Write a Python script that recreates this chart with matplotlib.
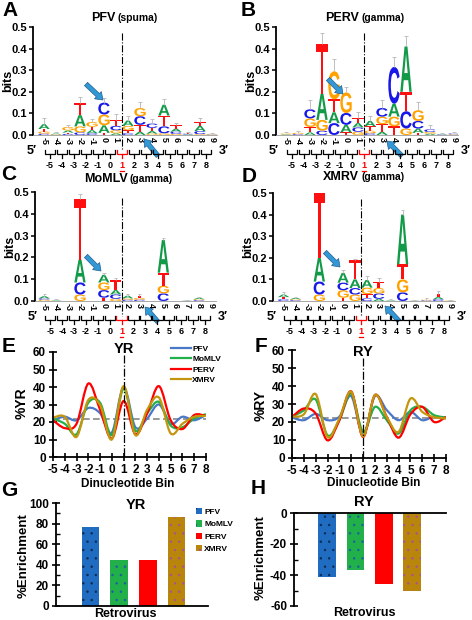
import matplotlib
matplotlib.use("Agg")
import matplotlib.pyplot as plt
import numpy as np
from matplotlib.textpath import TextPath
from matplotlib.patches import PathPatch, FancyArrow
from matplotlib.path import Path
from matplotlib.font_manager import FontProperties
from matplotlib.transforms import Affine2D, blended_transform_factory
from matplotlib.lines import Line2D
from matplotlib.patches import Patch

plt.rcParams['font.family'] = ['Liberation Sans', 'DejaVu Sans']
plt.rcParams['font.weight'] = 'bold'
plt.rcParams['axes.unicode_minus'] = False
plt.rcParams['hatch.linewidth'] = 0.5

# ---- data ----
POS = list(range(-5, 10))
DINUC = list(range(-5, 9))

# sequence logos: letters bottom -> top, heights in bits, error bar tops
PFV_SEQ = ["CGTA", "GA", "CTAG", "CGAT", "CATG", "TAGC", "AGCT", "CTGA",
           "ATCG", "GATC", "GCTA", "GCAT", "ACT", "GCAT", "CG"]
PFV_BITS = [[.006, .01, .012, .022], [.003, .004], [.005, .006, .01, .016],
            [.012, .028, .052, .058], [.008, .014, .016, .022], [.01, .035, .05, .055],
            [.008, .014, .02, .028], [.008, .014, .02, .025], [.015, .032, .04, .038],
            [.006, .012, .015, .02], [.008, .032, .05, .05], [.005, .01, .014, .016],
            [.003, .003, .004], [.004, .014, .024, .016], [.002, .003]]
PFV_ERR = [.08, .012, .045, .175, .075, .17, .095, .09, .155, .075, .165, .055, .015, .078, .008]

PERV_SEQ = ["AG", "CG", "ATGC", "CGAT", "CATG", "TACG", "GCAT", "CGTA",
            "ATGC", "TGAC", "GCTA", "TACG", "AGC", "AC", "GC"]
PERV_BITS = [[.003, .004], [.004, .006], [.012, .025, .04, .042],
             [.02, .05, .12, .23], [.055, .05, .06, .13], [.012, .035, .055, .095],
             [.015, .02, .02, .025], [.008, .012, .02, .025], [.015, .035, .035, .04],
             [.04, .045, .06, .17], [.03, .08, .09, .21], [.01, .02, .035, .05],
             [.006, .008, .012], [.002, .002], [.003, .004]]
PERV_ERR = [.012, .018, .16, .47, .35, .22, .105, .09, .16, .36, .46, .155, .045, .01, .014]

MOMLV_SEQ = ["GCA", "A", "", "GCAT", "", "TCGA", "GCAT", "CGA",
             "CGT", "", "CGTA", "", "A", "CGA", ""]
MOMLV_BITS = [[.006, .006, .01], [.003], [], [.03, .055, .105, .28], [],
              [.015, .035, .035, .035], [.01, .02, .02, .045], [.006, .006, .012],
              [.006, .008, .008], [], [.035, .035, .06, .15], [], [.002],
              [.004, .004, .006], []]
MOMLV_ERR = [.03, .008, 0, .49, 0, .13, .105, .03, .03, 0, .29, 0, .005, .02, 0]

XMRV_SEQ = ["CTA", "CGA", "", "GCAT", "", "TGCA", "GCAT", "CTGA",
            "ACGT", "A", "CGTA", "A", "CG", "CAT", "G"]
XMRV_BITS = [[.008, .01, .012], [.004, .004, .006], [], [.03, .06, .11, .3], [],
             [.015, .035, .035, .045], [.03, .03, .04, .09], [.012, .02, .03, .035],
             [.01, .025, .025, .03], [.003], [.04, .06, .07, .23], [.002],
             [.003, .003], [.008, .01, .015], [.002]]
XMRV_ERR = [.04, .02, 0, .5, 0, .145, .195, .115, .105, .008, .42, .005, .012, .045, .006]

# dinucleotide frequency curves
BINS = list(range(-5, 9))
YR_PFV = [21, 23, 21, 28, 25, 14, 40, 17, 22, 30, 19, 23, 21, 24]
YR_MOMLV = [22, 19, 13, 31, 31, 12.5, 39, 15, 25, 31.5, 18, 17, 22, 24.5]
YR_PERV = [21, 16.5, 19, 42, 27, 10.5, 32, 13, 25, 40.5, 21, 16, 24, 23.5]
YR_XMRV = [22.5, 23, 11.5, 32.6, 29.7, 10, 40.5, 12.5, 27, 34, 13.5, 19, 23, 23.5]

RY_PFV = [22.5, 21, 24.5, 21, 23, 34.4, 12.6, 34.4, 26.6, 21, 25.6, 21, 23, 22]
RY_MOMLV = [23, 26.5, 32.5, 12.6, 21, 35.8, 14.5, 28.4, 21, 13.6, 26.5, 28.4, 23.8, 22.5]
RY_PERV = [22.8, 27.5, 24.7, 9.8, 21, 37, 11.7, 35, 22.8, 11.3, 24.3, 28.4, 20, 22.8]
RY_XMRV = [23, 24.3, 35.5, 11.7, 22, 36.8, 12, 35, 22.8, 14.5, 33, 25.6, 22.7, 22]
BACKGROUND = 22

VIRUSES = ["PFV", "MoMLV", "PERV", "XMRV"]
YR_ENRICH = [77, 45, 45, 86]
RY_ENRICH = [-41, -37, -46, -50]

LINE_COLORS = ['#4a78c8', '#22b04a', '#ff0000', '#c4960e']
BAR_COLORS = ['#1f6cc0', '#22b04a', '#ff0000', '#b8860b']
DOT_COLORS = ['#0c2a55', '#1d5fa0', '#ff0000', '#b0508f']
LETTER_COLORS = {'A': '#129a48', 'C': '#1818e8', 'G': '#ffa200', 'T': '#ff1010'}

# ---- figure ----
W, H = 472, 620
fig = plt.figure(figsize=(W / 100, H / 100), dpi=100)
ov = fig.add_axes([0, 0, 1, 1])
ov.set_xlim(0, W)
ov.set_ylim(H, 0)
ov.axis('off')
ov.patch.set_alpha(0)
ov.set_zorder(5)


def px_axes(l, t, r, b):
    return fig.add_axes([l / W, 1 - b / H, (r - l) / W, (b - t) / H])


FP_LOGO = FontProperties(family='Liberation Sans', weight='bold')


def draw_letter(ax, ch, x, y0, w, h):
    tp = TextPath((0, 0), ch, size=1, prop=FP_LOGO)
    ext = tp.get_extents()
    tr = Affine2D().translate(-ext.x0, -ext.y0).scale(w / ext.width, h / ext.height).translate(x - w / 2, y0)
    ax.add_patch(PathPatch(tr.transform_path(tp), fc=LETTER_COLORS[ch], ec='none', lw=0))


def draw_logo(rect, x5, s, seqs, bits, errs, name, sub, tsplit, ty):
    l, t, r, b = rect
    ax = px_axes(l, t, r, b)
    ax.set_xlim(-5 - (x5 - l) / s, 9 + (r - (x5 + 14 * s)) / s)
    ax.set_ylim(0, 0.5)
    for p, seq, hs, e in zip(POS, seqs, bits, errs):
        y0 = 0
        for ch, h in zip(seq, hs):
            draw_letter(ax, ch, p, y0, 0.95, h)
            y0 += h
        if e > y0:
            ax.vlines(p, y0, e, color='#c0c0c0', lw=0.7)
            ax.hlines(e, p - 0.15, p + 0.15, color='#c0c0c0', lw=0.7)
    for sp in ['top', 'right']:
        ax.spines[sp].set_visible(False)
    ax.spines['left'].set_linewidth(1.3)
    ax.spines['bottom'].set_linewidth(0.6)
    ax.spines['bottom'].set_color('#999999')
    ax.set_yticks([0, .1, .2, .3, .4, .5])
    ax.set_yticklabels(['0.0', '0.1', '0.2', '0.3', '0.4', '0.5'], fontsize=8)
    ax.tick_params(axis='y', length=3, width=1.1, pad=1)
    ax.set_xticks(POS)
    ax.set_xticklabels([str(p) for p in POS], rotation=-90, fontsize=6.5)
    ax.tick_params(axis='x', length=0, pad=1.5)

    bt = blended_transform_factory(ax.transData, ov.transData)
    yl = b + 19
    for d in DINUC:
        c = 'red' if d == 1 else 'black'
        ov.plot([d + 0.06, d + 0.06, d + 0.94, d + 0.94], [yl - 4, yl, yl, yl - 4],
                color=c, lw=0.9, transform=bt, solid_joinstyle='miter')
        ov.plot([d + 0.5, d + 0.5], [yl, yl + 4], color=c, lw=0.9, transform=bt)
        ov.text(d + 0.5, b + 31, str(d), transform=bt, ha='center', va='center',
                fontsize=6.5, color=c)
        if d == 1:
            ov.plot([d + 0.36, d + 0.64], [b + 36, b + 36], color='red', lw=0.9, transform=bt)
    ov.text(-6, yl - 3, '5\u2032', transform=bt, ha='center', va='center', fontsize=9)
    ov.text(10, yl - 3, '3\u2032', transform=bt, ha='center', va='center', fontsize=9)
    ov.plot([1.5, 1.5], [t + 6, b + 15], transform=bt, color='k', ls='-.', lw=0.8)
    ov.text(tsplit, ty, name, ha='right', va='baseline', fontsize=9)
    ov.text(tsplit + 2, ty, sub, ha='left', va='baseline', fontsize=7.5)
    ov.text(l - 25, (t + b) / 2, 'bits', rotation=90, ha='center', va='center', fontsize=9)


draw_logo((33, 27, 217, 135), 44, 12.0, PFV_SEQ, PFV_BITS, PFV_ERR, 'PFV', '(spuma)', 115, 21)
draw_logo((276, 27, 458, 135), 286, 12.0, PERV_SEQ, PERV_BITS, PERV_ERR, 'PERV', '(gamma)', 359, 21)
draw_logo((35, 192, 216, 301), 44.3, 11.9, MOMLV_SEQ, MOMLV_BITS, MOMLV_ERR, 'MoMLV', '(gamma)', 128, 182)
draw_logo((273, 193, 455, 301), 283.6, 11.9, XMRV_SEQ, XMRV_BITS, XMRV_ERR, 'XMRV', '(gamma)', 359, 180)


def smooth_path(x, y):
    pts = np.column_stack([x, y]).astype(float)
    n = len(pts)
    verts = [pts[0]]
    codes = [Path.MOVETO]
    for i in range(n - 1):
        p0 = pts[max(i - 1, 0)]
        p1 = pts[i]
        p2 = pts[i + 1]
        p3 = pts[min(i + 2, n - 1)]
        verts += [p1 + (p2 - p0) / 6, p2 - (p3 - p1) / 6, p2]
        codes += [Path.CURVE4] * 3
    return Path(verts, codes)


def draw_curves(rect, series, title, ylab, ylab_xy, xlab_xy, title_py, top_py, legend):
    l, t, r, b = rect
    ax = px_axes(l, t, r, b)
    ax.set_xlim(-5, 8)
    ax.set_ylim(0, 60)
    ax.axhline(BACKGROUND, color='#888888', ls='--', lw=1.2, dashes=(4, 2), zorder=1)
    for vals, c in zip(series, LINE_COLORS):
        ax.add_patch(PathPatch(smooth_path(BINS, vals), fill=False, ec=c, lw=1.6, zorder=2))
    bt = blended_transform_factory(ax.transData, ov.transData)
    ov.plot([1, 1], [top_py, b], transform=bt, color='k', ls='-.', lw=0.9)
    ov.text(1, title_py, title, transform=bt, ha='center', va='center', fontsize=10.5)
    for sp in ['top', 'right']:
        ax.spines[sp].set_visible(False)
    for sp in ['left', 'bottom']:
        ax.spines[sp].set_linewidth(1.3)
    ax.set_xticks(BINS)
    ax.set_xticklabels([str(v) for v in BINS], fontsize=8.5)
    ax.set_yticks(range(0, 61, 10))
    ax.set_yticklabels([str(v) for v in range(0, 61, 10)], fontsize=8.5)
    ax.tick_params(direction='inout', length=6, width=1.2, pad=2)
    ov.text(ylab_xy[0], ylab_xy[1], ylab, rotation=90, ha='center', va='center', fontsize=10)
    ov.text(xlab_xy[0], xlab_xy[1], 'Dinucleotide Bin', ha='center', va='center', fontsize=8.5)
    if legend:
        handles = [Line2D([], [], color=c, lw=1.6) for c in LINE_COLORS]
        ax.legend(handles, VIRUSES, loc='upper left', bbox_to_anchor=(171, 345),
                  bbox_transform=ov.transData, frameon=False, prop={'size': 6, 'weight': 'bold'},
                  handlelength=2.4, handletextpad=0.15, labelspacing=0.3,
                  borderpad=0, borderaxespad=0)
    return ax


draw_curves((53, 352, 206, 457), [YR_PFV, YR_MOMLV, YR_PERV, YR_XMRV], 'YR', '%YR',
            (22, 403), (128, 484), 349, 355, True)
draw_curves((292, 350, 446, 458), [RY_PFV, RY_MOMLV, RY_PERV, RY_XMRV], 'RY', '%RY',
            (261, 405), (374, 483), 352, 358, False)


def draw_bars(rect, vals, xlim, ylim, ymaj, ymin, title, title_xy, ylab_xy, xlab_xy, top_axis, legend):
    l, t, r, b = rect
    ax = px_axes(l, t, r, b)
    xs = np.arange(len(VIRUSES))
    bars = ax.bar(xs, vals, width=0.62, color=BAR_COLORS, edgecolor=DOT_COLORS, lw=0)
    for bar, v in zip(bars, VIRUSES):
        if v != 'PERV':
            bar.set_hatch('..')
    ax.set_xlim(*xlim)
    ax.set_ylim(*ylim)
    ax.set_xticks([])
    ax.set_yticks(ymaj)
    ax.set_yticklabels([str(v) for v in ymaj], fontsize=8.5)
    ax.set_yticks(ymin, minor=True)
    ax.tick_params(axis='y', which='major', direction='inout', length=6, width=1.2, pad=2)
    ax.tick_params(axis='y', which='minor', direction='in', length=3, width=1.0)
    ax.spines['right'].set_visible(False)
    ax.spines['top' if not top_axis else 'bottom'].set_visible(False)
    ax.spines['left'].set_linewidth(1.3)
    ax.spines['top' if top_axis else 'bottom'].set_linewidth(1.3)
    ov.text(title_xy[0], title_xy[1], title, ha='center', va='center', fontsize=10.5)
    ov.text(ylab_xy[0], ylab_xy[1], '%Enrichment', rotation=90, ha='center', va='center', fontsize=9.5)
    ov.text(xlab_xy[0], xlab_xy[1], 'Retrovirus', ha='center', va='center', fontsize=9)
    if legend:
        handles = [Patch(facecolor=bc, edgecolor=dc, lw=0, hatch=('..' if v != 'PERV' else None))
                   for bc, dc, v in zip(BAR_COLORS, DOT_COLORS, VIRUSES)]
        ax.legend(handles, VIRUSES, loc='upper left', bbox_to_anchor=(196, 508),
                  bbox_transform=ov.transData, frameon=False, prop={'size': 6, 'weight': 'bold'},
                  handlelength=0.7, handleheight=0.8, handletextpad=0.3, labelspacing=0.5,
                  borderpad=0, borderaxespad=0)


draw_bars((56, 503, 208, 606), YR_ENRICH, (-1.2, 4.1), (0, 100), list(range(0, 101, 20)),
          list(range(10, 100, 20)), 'YR', (136, 505), (24, 556), (125, 614), False, True)
draw_bars((294, 513, 446, 606), RY_ENRICH, (-1.17, 4.2), (-60, 0), [-60, -40, -20, 0],
          [-50, -30, -10], 'RY', (364, 502), (261, 558), (364, 613), True, False)

# panel letters
for ch, x, y in [('A', 10, 10), ('B', 248, 10), ('C', 9, 175), ('D', 249, 176),
                 ('E', 9, 346), ('F', 261, 346), ('G', 9, 491), ('H', 258, 489)]:
    ov.text(x, y, ch, ha='center', va='center', fontsize=15)

# blue arrows
ARROWS = [((86, 84), (103, 100)), ((158, 156), (144, 139)),
          ((328, 79), (343, 94)), ((402, 156), (387, 141)),
          ((86, 256), (101, 271)), ((158, 322), (145, 307)),
          ((325, 252), (340, 267)), ((399, 321), (385, 306))]
for (x0, y0), (x1, y1) in ARROWS:
    ov.add_patch(FancyArrow(x0, y0, x1 - x0, y1 - y0, width=4.5, head_width=10, head_length=7,
                            length_includes_head=True, fc='#3399d6', ec='#1f5f8f', lw=0.5))

fig.savefig("out.png", dpi=100)
